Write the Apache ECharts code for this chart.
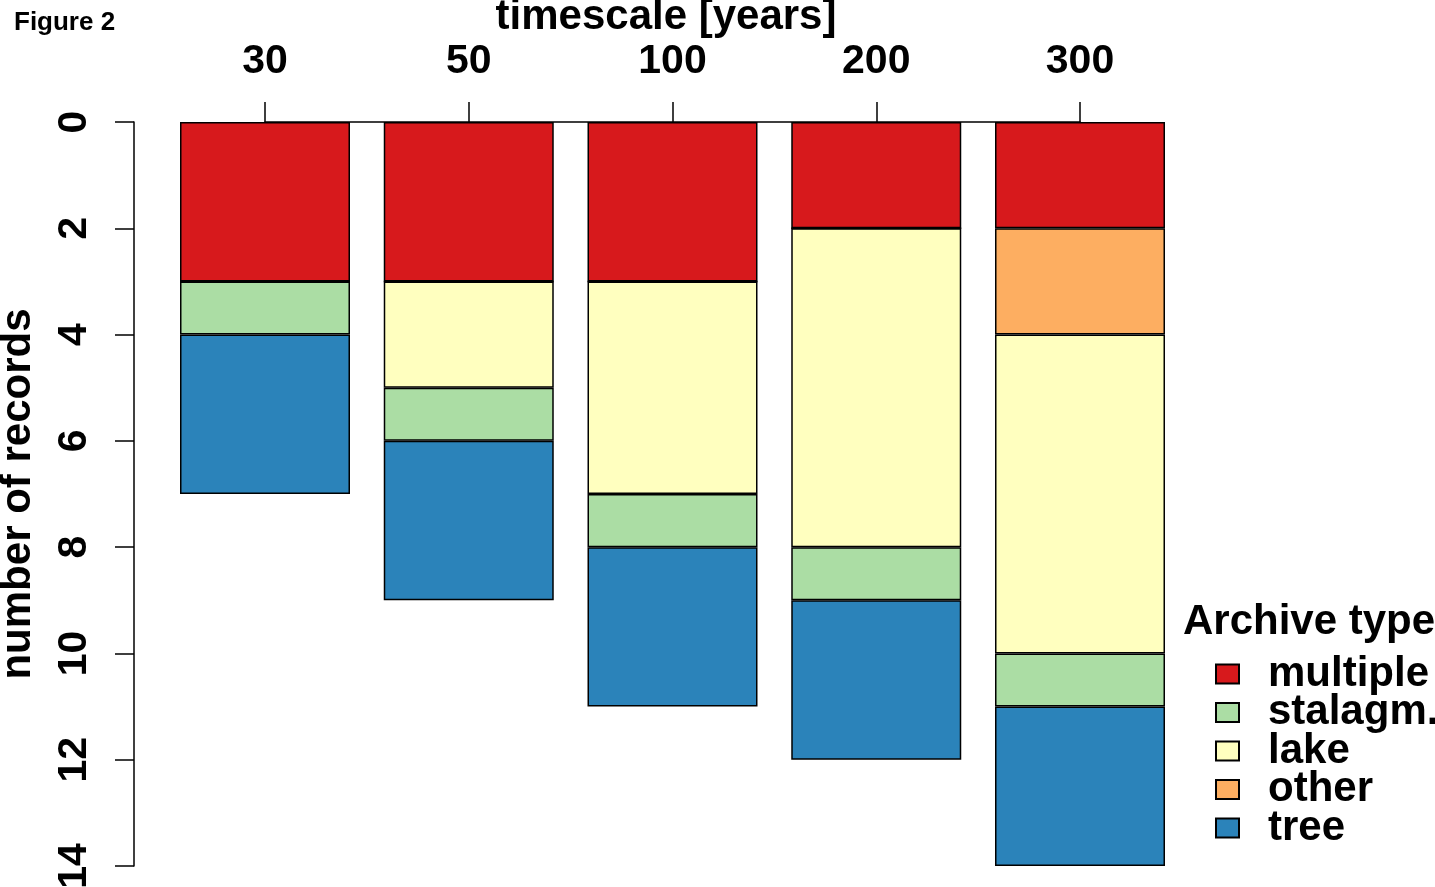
<!DOCTYPE html>
<html><head><meta charset="utf-8">
<script src="https://cdn.jsdelivr.net/npm/echarts@6/dist/echarts.min.js"></script>
<style>html,body{margin:0;padding:0;background:#fff}#c{width:1435px;height:887px}</style>
</head><body><div id="c"></div>
<script>
const categories = ['30', '50', '100', '200', '300'];
const multiple = [3, 3, 3, 2, 2];
const other = [0, 0, 0, 0, 2];
const lake = [0, 2, 4, 6, 6];
const stalagm = [1, 1, 1, 1, 1];
const tree = [3, 3, 3, 3, 3];
const legendOrder = ['multiple', 'stalagm.', 'lake', 'other', 'tree'];

const FONT = '"Liberation Sans", Arial, Helvetica, sans-serif';
const stackDefs = [
  { name: 'multiple', data: multiple, color: '#D7191C' },
  { name: 'other', data: other, color: '#FDAE61' },
  { name: 'lake', data: lake, color: '#FFFFBF' },
  { name: 'stalagm.', data: stalagm, color: '#ABDDA4' },
  { name: 'tree', data: tree, color: '#2B83BA' }
];

const chart = echarts.init(document.getElementById('c'), null, { renderer: 'canvas' });
chart.setOption({
  animation: false,
  backgroundColor: '#ffffff',
  textStyle: { fontFamily: FONT },
  grid: { left: 265, right: 1435 - 1080, top: 122, bottom: 887 - 866, containLabel: false, outerBoundsMode: 'none' },
  xAxis: {
    type: 'category',
    position: 'top',
    data: categories,
    boundaryGap: false,
    axisLine: { show: true, lineStyle: { color: '#000', width: 1.5 } },
    axisTick: { show: true, length: 20, lineStyle: { color: '#000', width: 1.5 } },
    axisLabel: { fontSize: 41, fontWeight: 'bold', color: '#000', margin: 40, fontFamily: FONT },
    splitLine: { show: false }
  },
  yAxis: {
    type: 'value',
    inverse: true,
    min: 0, max: 14, interval: 2,
    offset: 265 - 134,
    name: 'number of records',
    nameLocation: 'middle',
    nameRotate: 90,
    nameGap: 95,
    nameTextStyle: { fontSize: 42, fontWeight: 'bold', color: '#000', fontFamily: FONT },
    axisLine: { show: true, lineStyle: { color: '#000', width: 1.5 } },
    axisTick: { show: true, length: 19, lineStyle: { color: '#000', width: 1.5 } },
    axisLabel: { rotate: 90, fontSize: 41, fontWeight: 'bold', color: '#000', margin: 39, fontFamily: FONT },
    splitLine: { show: false }
  },
  legend: {
    orient: 'vertical',
    left: 1210,
    top: 648,
    padding: 5,
    itemWidth: 23,
    itemHeight: 19,
    itemGap: -3.5,
    icon: 'rect',
    data: legendOrder,
    selectedMode: false,
    textStyle: { fontSize: 42, fontWeight: 'bold', color: '#000', padding: [0, 0, 0, 24], fontFamily: FONT }
  },
  graphic: [
    { type: 'text', left: 14, top: 10, style: { text: 'Figure 2', fill: '#000', font: 'bold 26px ' + FONT } },
    { type: 'text', x: 666, y: 17, style: { text: 'timescale [years]', align: 'center', verticalAlign: 'middle', fill: '#000', font: 'bold 42px ' + FONT } },
    { type: 'text', x: 1183, y: 622, style: { text: 'Archive type', align: 'left', verticalAlign: 'middle', fill: '#000', font: 'bold 42px ' + FONT } }
  ],
  series: stackDefs.map(d => ({
    type: 'bar',
    name: d.name,
    stack: 'total',
    data: d.data,
    barWidth: 170,
    clip: false,
    itemStyle: { color: d.color, borderColor: '#000', borderWidth: 1.5 },
    emphasis: { disabled: true }
  }))
});
</script>
</body></html>
